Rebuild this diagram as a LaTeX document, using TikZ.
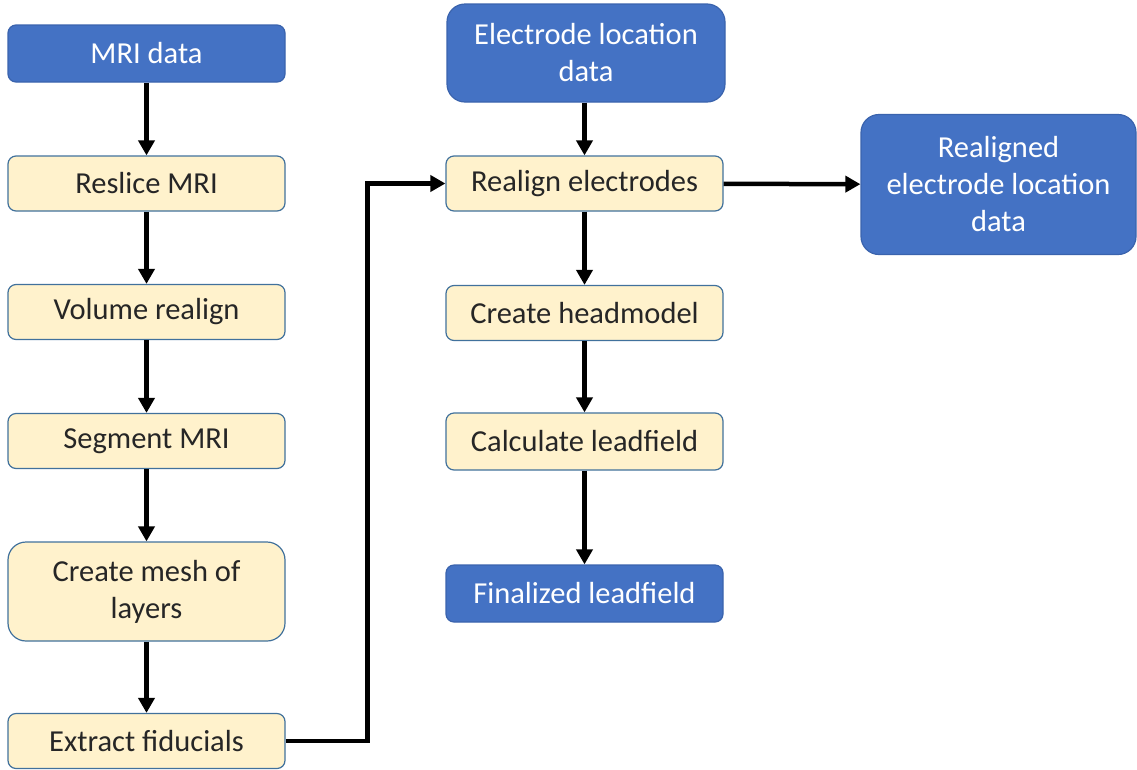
\documentclass[tikz,border=0pt]{standalone}
\usepackage{fontspec}
\setmainfont{Carlito}
\usetikzlibrary{arrows.meta}
\definecolor{bluebox}{HTML}{4472C4}
\definecolor{blueedge}{HTML}{3A63AD}
\definecolor{yellowbox}{HTML}{FFF2CC}
\definecolor{yellowedge}{HTML}{41719C}
\tikzset{
  base/.style={align=center, inner sep=0pt, minimum width=277pt, minimum height=55pt, font=\fontsize{30.5}{37}\selectfont, line width=1.2pt},
  procbox/.style={base, fill=yellowbox, draw=yellowedge, text=black!85, rounded corners=8pt},
  databox/.style={base, fill=bluebox, draw=blueedge, text=white, rounded corners=8pt},
  bigbox/.style={databox, rounded corners=18pt},
  arr/.style={line width=4.5pt, -{Triangle[length=15pt,width=16pt]}}
}
\begin{document}
\begin{tikzpicture}[x=1pt,y=1pt]
\useasboundingbox (0,0) rectangle (1137,-769);
% left column
\node[databox] (mri) at (146.5,-53.5) [minimum height=57pt] {MRI data};
\node[procbox] (res) at (146.5,-183.5) {Reslice MRI};
\node[procbox] (vol) at (146.5,-312) {Volume realign};
\node[procbox] (seg) at (146.5,-441) {Segment MRI};
\node[procbox, minimum height=99pt, rounded corners=18pt] (mesh) at (146.5,-591.5) {Create mesh of\\layers};
\node[procbox] (ext) at (146.5,-741) {Extract fiducials};
% middle column
\node[bigbox, minimum width=278pt, minimum height=98pt] (eld) at (586,-53) {Electrode location\\data};
\node[procbox] (rea) at (584.5,-183.5) {Realign electrodes};
\node[procbox] (hm) at (584.5,-313) {Create headmodel};
\node[procbox, minimum height=57pt] (lf) at (584.5,-441.5) {Calculate leadfield};
\node[databox, minimum height=57pt] (fin) at (584.5,-593.5) {Finalized leadfield};
% right
\node[bigbox, minimum width=275pt, minimum height=140pt] (rel) at (998.5,-184.5) {Realigned\\electrode location\\data};
% connectors
\draw[arr] (mri) -- (res);
\draw[arr] (res) -- (vol);
\draw[arr] (vol) -- (seg);
\draw[arr] (seg) -- (mesh);
\draw[arr] (mesh) -- (ext);
\draw[arr] (eld.south -| rea.north) -- (rea.north);
\draw[arr] (rea) -- (hm);
\draw[arr] (hm) -- (lf);
\draw[arr] (lf) -- (fin);
\draw[arr] (rea) -- (rel);
\draw[arr, rounded corners=0pt] (ext.east) -- ++(82,0) |- (rea.west);
\end{tikzpicture}
\end{document}
